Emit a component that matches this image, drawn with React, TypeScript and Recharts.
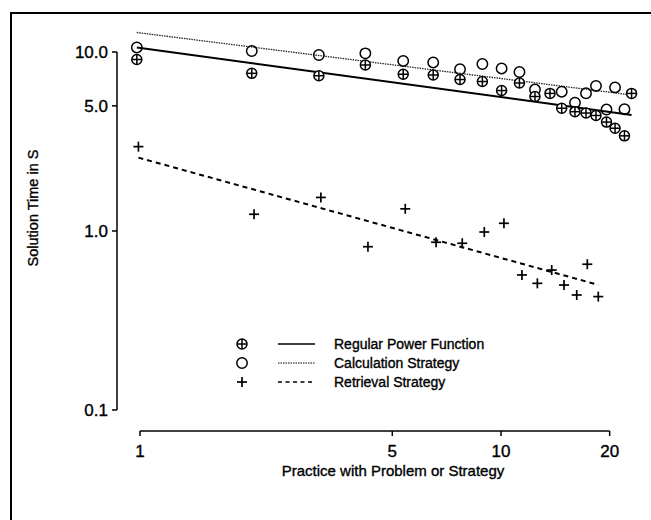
import React from 'react';
import { ScatterChart, Scatter, XAxis, YAxis, ReferenceLine, Legend, Label } from 'recharts';

const FONT = '"Liberation Sans", Arial, Helvetica, sans-serif';

// axis ranges and ticks
const xDomain = [0.8636, 24.27];
const yDomain = [0.07631, 13.27];
const xTicks = [1, 5, 10, 20];
const yTicks = [0.1, 1, 5, 10];

// Calculation strategy (open circles)
const calcX = [0.98, 2.04, 3.13, 4.21, 5.36, 6.49, 7.7, 8.88, 10.04, 11.25, 12.42, 14.73, 16.03, 17.2, 18.33, 19.6, 20.7, 21.98];
const calcY = [10.6, 10.13, 9.62, 9.83, 8.91, 8.74, 8.01, 8.57, 8.09, 7.73, 6.17, 6.0, 5.21, 5.88, 6.46, 4.77, 6.34, 4.79];

// Regular power function (crossed circles)
const regX = [0.98, 2.04, 3.13, 4.21, 5.36, 6.49, 7.7, 8.88, 10.04, 11.25, 12.42, 13.67, 14.73, 16.03, 17.2, 18.33, 19.6, 20.7, 21.98, 23.0];
const regY = [9.08, 7.6, 7.37, 8.46, 7.51, 7.44, 7.02, 6.84, 6.09, 6.71, 5.64, 5.87, 4.85, 4.64, 4.56, 4.42, 4.06, 3.75, 3.4, 5.87];

// Retrieval strategy (plus signs)
const retX = [0.99, 2.07, 3.17, 4.28, 5.43, 6.61, 7.81, 8.99, 10.19, 11.43, 12.61, 13.82, 14.95, 16.21, 17.34, 18.6];
const retY = [2.96, 1.24, 1.54, 0.817, 1.33, 0.865, 0.854, 0.987, 1.104, 0.568, 0.51, 0.605, 0.499, 0.439, 0.652, 0.43];

// fitted power-function lines (end points)
const regFitX = [0.98, 23.0];
const regFitY = [10.6, 4.45];
const calcFitX = [0.98, 23.0];
const calcFitY = [12.85, 5.75];
const retFitX = [0.99, 18.6];
const retFitY = [2.57, 0.5];

const legendLabels = ['Regular Power Function', 'Calculation Strategy', 'Retrieval Strategy'];

const zip = (xs: number[], ys: number[]) => xs.map((x, i) => ({ x, y: ys[i] }));

const calcData = zip(calcX, calcY);
const regData = zip(regX, regY);
const retData = zip(retX, retY);
const regFit = zip(regFitX, regFitY);
const calcFit = zip(calcFitX, calcFitY);
const retFit = zip(retFitX, retFitY);

const CrossCircle = (props: any) => {
  const { cx, cy } = props;
  const r = 5;
  return (
    <g stroke="#000" strokeWidth={1.5} fill="#fff">
      <circle cx={cx} cy={cy} r={r} />
      <line x1={cx - r} y1={cy} x2={cx + r} y2={cy} />
      <line x1={cx} y1={cy - r} x2={cx} y2={cy + r} />
    </g>
  );
};

const OpenCircle = (props: any) => {
  const { cx, cy } = props;
  return <circle cx={cx} cy={cy} r={5.2} stroke="#000" strokeWidth={1.5} fill="none" />;
};

const PlusMark = (props: any) => {
  const { cx, cy } = props;
  const r = 5;
  return (
    <g stroke="#000" strokeWidth={1.7}>
      <line x1={cx - r} y1={cy} x2={cx + r} y2={cy} />
      <line x1={cx} y1={cy - r} x2={cx} y2={cy + r} />
    </g>
  );
};

const NoShape = () => <g />;

const textStyle = { fontFamily: FONT, fill: '#000', stroke: '#000', strokeWidth: 0.35 };

const LegendContent = () => {
  const rows = [0, 19, 38];
  return (
    <svg width={260} height={60} style={{ overflow: 'visible' }}>
      {rows.map((dy, i) => {
        const y = 10 + dy;
        return (
          <g key={i}>
            {i === 0 && <CrossCircle cx={12} cy={y} />}
            {i === 1 && <OpenCircle cx={12} cy={y} />}
            {i === 2 && <PlusMark cx={12} cy={y} />}
            <line
              x1={48}
              y1={y}
              x2={85}
              y2={y}
              stroke="#000"
              strokeWidth={i === 1 ? 1.2 : 1.6}
              strokeDasharray={i === 1 ? '1.5 1' : i === 2 ? '4 3.5' : undefined}
            />
            <text x={104} y={y} dominantBaseline="central" fontSize={14} {...textStyle}>
              {legendLabels[i]}
            </text>
          </g>
        );
      })}
    </svg>
  );
};

export default function App() {
  return (
    <div style={{ position: 'absolute', left: 0, top: 0, width: 651, height: 520, background: '#fff' }}>
      <div
        style={{
          position: 'absolute',
          left: 10,
          top: 12,
          width: 641,
          height: 508,
          borderTop: '2.5px solid #000',
          borderLeft: '2px solid #000',
          boxSizing: 'border-box',
        }}
      />
      <div style={{ position: 'absolute', left: 0, top: 0 }}>
        <ScatterChart width={651} height={520} margin={{ top: 30, right: 11, left: 57, bottom: 49 }}>
          <XAxis
            type="number"
            dataKey="x"
            scale="log"
            domain={xDomain}
            allowDataOverflow
            ticks={xTicks}
            axisLine={false}
            tickLine={{ stroke: '#000', strokeWidth: 1.5 }}
            tickSize={5}
            tickMargin={9}
            height={40}
            tick={{ fontSize: 17, ...textStyle }}
          >
            <Label
              content={() => (
                <text x={393} y={470} textAnchor="middle" dominantBaseline="central" fontSize={15} {...textStyle}>
                  Practice with Problem or Strategy
                </text>
              )}
            />
          </XAxis>
          <YAxis
            type="number"
            dataKey="y"
            scale="log"
            domain={yDomain}
            allowDataOverflow
            ticks={yTicks}
            axisLine={false}
            tickLine={{ stroke: '#000', strokeWidth: 1.5 }}
            tickSize={5}
            tickMargin={4}
            width={60}
            tickFormatter={(v: number) => v.toFixed(1)}
            tick={{ fontSize: 17, ...textStyle }}
          >
            <Label
              content={() => (
                <text
                  x={33}
                  y={208}
                  transform="rotate(-90 33 208)"
                  textAnchor="middle"
                  dominantBaseline="central"
                  fontSize={14.5}
                  {...textStyle}
                >
                  Solution Time in S
                </text>
              )}
            />
          </YAxis>
          <ReferenceLine
            segment={[{ x: xDomain[0], y: yTicks[0] }, { x: xDomain[0], y: yTicks[3] }]}
            stroke="#000"
            strokeWidth={1.5}
            ifOverflow="visible"
          />
          <ReferenceLine
            segment={[{ x: xTicks[0], y: yDomain[0] }, { x: xTicks[3], y: yDomain[0] }]}
            stroke="#000"
            strokeWidth={1.5}
            ifOverflow="visible"
          />
          <Scatter data={calcFit} line={{ stroke: '#222', strokeWidth: 1.3, strokeDasharray: '1.5 1' }} shape={NoShape} isAnimationActive={false} legendType="none" />
          <Scatter data={regFit} line={{ stroke: '#000', strokeWidth: 2 }} shape={NoShape} isAnimationActive={false} legendType="none" />
          <Scatter data={retFit} line={{ stroke: '#000', strokeWidth: 2, strokeDasharray: '5 4' }} shape={NoShape} isAnimationActive={false} legendType="none" />
          <Scatter data={calcData} shape={OpenCircle} isAnimationActive={false} />
          <Scatter data={regData} shape={CrossCircle} isAnimationActive={false} />
          <Scatter data={retData} shape={PlusMark} isAnimationActive={false} />
          <Legend
            layout="horizontal"
            verticalAlign="middle"
            align="center"
            content={<LegendContent />}
            wrapperStyle={{ position: 'absolute', left: 230, top: 334, width: 260, height: 60 }}
          />
        </ScatterChart>
      </div>
    </div>
  );
}
